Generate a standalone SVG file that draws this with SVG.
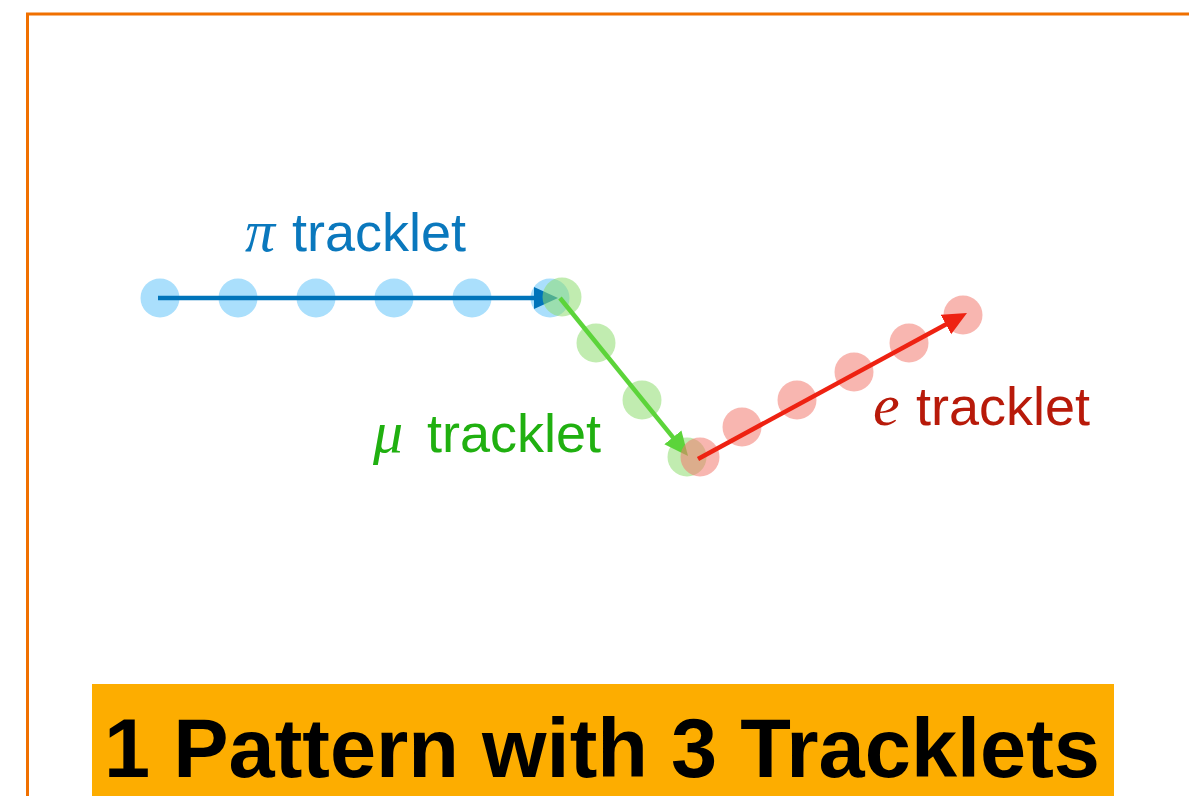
<svg xmlns="http://www.w3.org/2000/svg" width="1189" height="796" viewBox="0 0 1189 796">
  <style>
    .label { font-family: "Liberation Sans", Arial, sans-serif; font-size: 54px; }
    .greek { font-family: "Liberation Serif", "Times New Roman", serif; font-style: italic; font-size: 60px; }
    .pi-dot { fill: #aadffc; }
    .mu-dot { fill: #8edc70; opacity: 0.55; }
    .e-dot { fill: #f27a70; opacity: 0.55; }
    .track { stroke-width: 4.5; fill: none; }
    .title { font-family: "Liberation Sans", Arial, sans-serif; font-weight: bold; font-size: 84px; fill: #000; }
  </style>
  <defs>
    <marker id="head-blue" markerUnits="userSpaceOnUse" markerWidth="26" markerHeight="24" refX="14" refY="11" orient="auto">
      <path d="M0,0 L24,11 L0,22 z" fill="#0074ba"/>
    </marker>
    <marker id="head-green" markerUnits="userSpaceOnUse" markerWidth="26" markerHeight="24" refX="14" refY="11" orient="auto">
      <path d="M0,0 L24,11 L0,22 z" fill="#5cd43a"/>
    </marker>
    <marker id="head-red" markerUnits="userSpaceOnUse" markerWidth="26" markerHeight="24" refX="14" refY="11" orient="auto">
      <path d="M0,0 L24,11 L0,22 z" fill="#ee2212"/>
    </marker>
  </defs>

  <rect width="1189" height="796" fill="#ffffff"/>

  <!-- frame -->
  <path d="M27.5,800 V14 H1195" fill="none" stroke="#f07000" stroke-width="3"/>

  <!-- pion hits -->
  <g id="pi-hits">
    <circle class="pi-dot" cx="160" cy="298" r="19.5"/>
    <circle class="pi-dot" cx="238" cy="298" r="19.5"/>
    <circle class="pi-dot" cx="316" cy="298" r="19.5"/>
    <circle class="pi-dot" cx="394" cy="298" r="19.5"/>
    <circle class="pi-dot" cx="472" cy="298" r="19.5"/>
    <circle class="pi-dot" cx="550" cy="298" r="19.5"/>
  </g>

  <g id="connectors">
    <line class="track" x1="158" y1="298" x2="548" y2="298" stroke="#0074ba" marker-end="url(#head-blue)"/>
  </g>

  <!-- muon hits -->
  <g id="mu-hits">
    <circle class="mu-dot" cx="562" cy="297" r="19.5"/>
    <circle class="mu-dot" cx="596" cy="343" r="19.5"/>
    <circle class="mu-dot" cx="642" cy="400" r="19.5"/>
    <circle class="mu-dot" cx="687" cy="457" r="19.5"/>
  </g>

  <g id="mu-track">
    <line class="track" x1="560" y1="298" x2="681.7" y2="448.2" stroke="#5cd43a" marker-end="url(#head-green)"/>
  </g>

  <!-- electron hits -->
  <g id="e-hits">
    <circle class="e-dot" cx="700" cy="457" r="19.5"/>
    <circle class="e-dot" cx="742" cy="427" r="19.5"/>
    <circle class="e-dot" cx="797" cy="400" r="19.5"/>
    <circle class="e-dot" cx="854" cy="372" r="19.5"/>
    <circle class="e-dot" cx="909" cy="343" r="19.5"/>
    <circle class="e-dot" cx="963" cy="315" r="19.5"/>
  </g>

  <g id="e-track">
    <line class="track" x1="698" y1="459" x2="958.2" y2="317.8" stroke="#ee2212" marker-end="url(#head-red)"/>
  </g>

  <!-- labels -->
  <g id="pi-label" fill="#0a78bd">
    <text class="greek" x="245" y="251">π</text>
    <text class="label" x="292" y="251">tracklet</text>
  </g>
  <g id="mu-label" fill="#20b010">
    <text class="greek" x="373" y="452">μ</text>
    <text class="label" x="427" y="452">tracklet</text>
  </g>
  <g id="e-label" fill="#b81a0a">
    <text class="greek" x="873" y="425">e</text>
    <text class="label" x="916" y="425">tracklet</text>
  </g>

  <!-- title banner -->
  <g id="title">
    <rect x="92" y="684" width="1022" height="120" fill="#fdad00"/>
    <text class="title" x="104" y="777" textLength="996" lengthAdjust="spacingAndGlyphs">1 Pattern with 3 Tracklets</text>
  </g>
</svg>
